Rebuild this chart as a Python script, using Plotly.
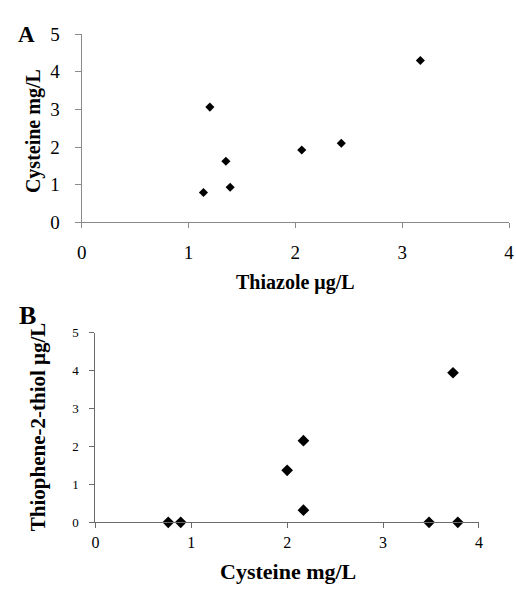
import plotly.graph_objects as go

# Panel A data
thiazole_a = [1.14, 1.20, 1.35, 1.39, 2.06, 2.43, 3.17]
cysteine_a = [0.79, 3.06, 1.62, 0.93, 1.92, 2.10, 4.30]

# Panel B data
cysteine_b = [0.76, 0.89, 2.00, 2.17, 2.17, 3.48, 3.78, 3.73]
thiophene_b = [0.0, 0.0, 1.37, 2.15, 0.32, 0.0, 0.0, 3.94]

x_ticks = [0, 1, 2, 3, 4]
y_ticks = [0, 1, 2, 3, 4, 5]

W, H = 516, 597
FONT = "Liberation Serif"

def px_x(p):
    return p / W

def px_y(p):
    return 1 - p / H

fig = go.Figure()
fig.add_trace(go.Scatter(x=thiazole_a, y=cysteine_a, mode="markers",
                         marker=dict(symbol="diamond", size=7, color="black"),
                         xaxis="x", yaxis="y", showlegend=False))
fig.add_trace(go.Scatter(x=cysteine_b, y=thiophene_b, mode="markers",
                         marker=dict(symbol="diamond", size=9, color="black"),
                         xaxis="x2", yaxis="y2", showlegend=False, cliponaxis=False))

axcol_a = "#8a8a8a"
axcol_b = "#6a6a6a"

common = dict(showgrid=False, zeroline=False, showline=True, ticks="outside",
              fixedrange=True)

fig.update_layout(
    width=W, height=H,
    margin=dict(l=0, r=0, t=0, b=0),
    paper_bgcolor="white", plot_bgcolor="white",
    font=dict(family=FONT, color="black"),
    xaxis=dict(domain=[px_x(78), px_x(513)], range=[0, 4], tickvals=x_ticks,
               linecolor=axcol_a, tickcolor=axcol_a, ticklen=5, linewidth=1,
               tickfont=dict(size=19, family=FONT), ticklabelstandoff=8,
               anchor="y", **common),
    yaxis=dict(domain=[px_y(220), px_y(25)], range=[0, 5], tickvals=y_ticks,
               linecolor=axcol_a, tickcolor=axcol_a, ticklen=6, linewidth=1,
               tickfont=dict(size=19, family=FONT), ticklabelstandoff=11,
               anchor="x", **common),
    xaxis2=dict(domain=[px_x(92), px_x(482.3)], range=[0, 4], tickvals=x_ticks,
                linecolor=axcol_b, tickcolor=axcol_b, ticklen=5, linewidth=1,
                tickfont=dict(size=16, family=FONT), ticklabelstandoff=0,
                anchor="y2", **common),
    yaxis2=dict(domain=[px_y(531), px_y(334.3)], range=[0, 5], tickvals=y_ticks,
                linecolor=axcol_b, tickcolor=axcol_b, ticklen=5, linewidth=1,
                tickfont=dict(size=13, family=FONT), ticklabelstandoff=8,
                anchor="x2", **common),
    annotations=[
        dict(text="<b>A</b>", x=px_x(22), y=px_y(25), xref="paper", yref="paper",
             showarrow=False, font=dict(size=23, family=FONT), xanchor="center", yanchor="middle"),
        dict(text="<b>B</b>", x=px_x(23), y=px_y(317), xref="paper", yref="paper",
             showarrow=False, font=dict(size=26, family=FONT), xanchor="center", yanchor="middle"),
        dict(text="<b>Thiazole μg/L</b>", x=px_x(296), y=px_y(282), xref="paper", yref="paper",
             showarrow=False, font=dict(size=20, family=FONT), xanchor="center", yanchor="middle"),
        dict(text="<b>Cysteine mg/L</b>", x=px_x(29), y=px_y(125), xref="paper", yref="paper",
             showarrow=False, font=dict(size=20, family=FONT), textangle=-90,
             xanchor="center", yanchor="middle"),
        dict(text="<b>Cysteine mg/L</b>", x=px_x(288), y=px_y(582), xref="paper", yref="paper",
             showarrow=False, font=dict(size=22, family=FONT), xanchor="center", yanchor="middle"),
        dict(text="<b>Thiophene-2-thiol μg/L</b>", x=px_x(33), y=px_y(432), xref="paper", yref="paper",
             showarrow=False, font=dict(size=21, family=FONT), textangle=-90,
             xanchor="center", yanchor="middle"),
    ],
)

fig.write_html("out.html", config={"displayModeBar": False},
               post_script="document.body.style.margin='0';")
